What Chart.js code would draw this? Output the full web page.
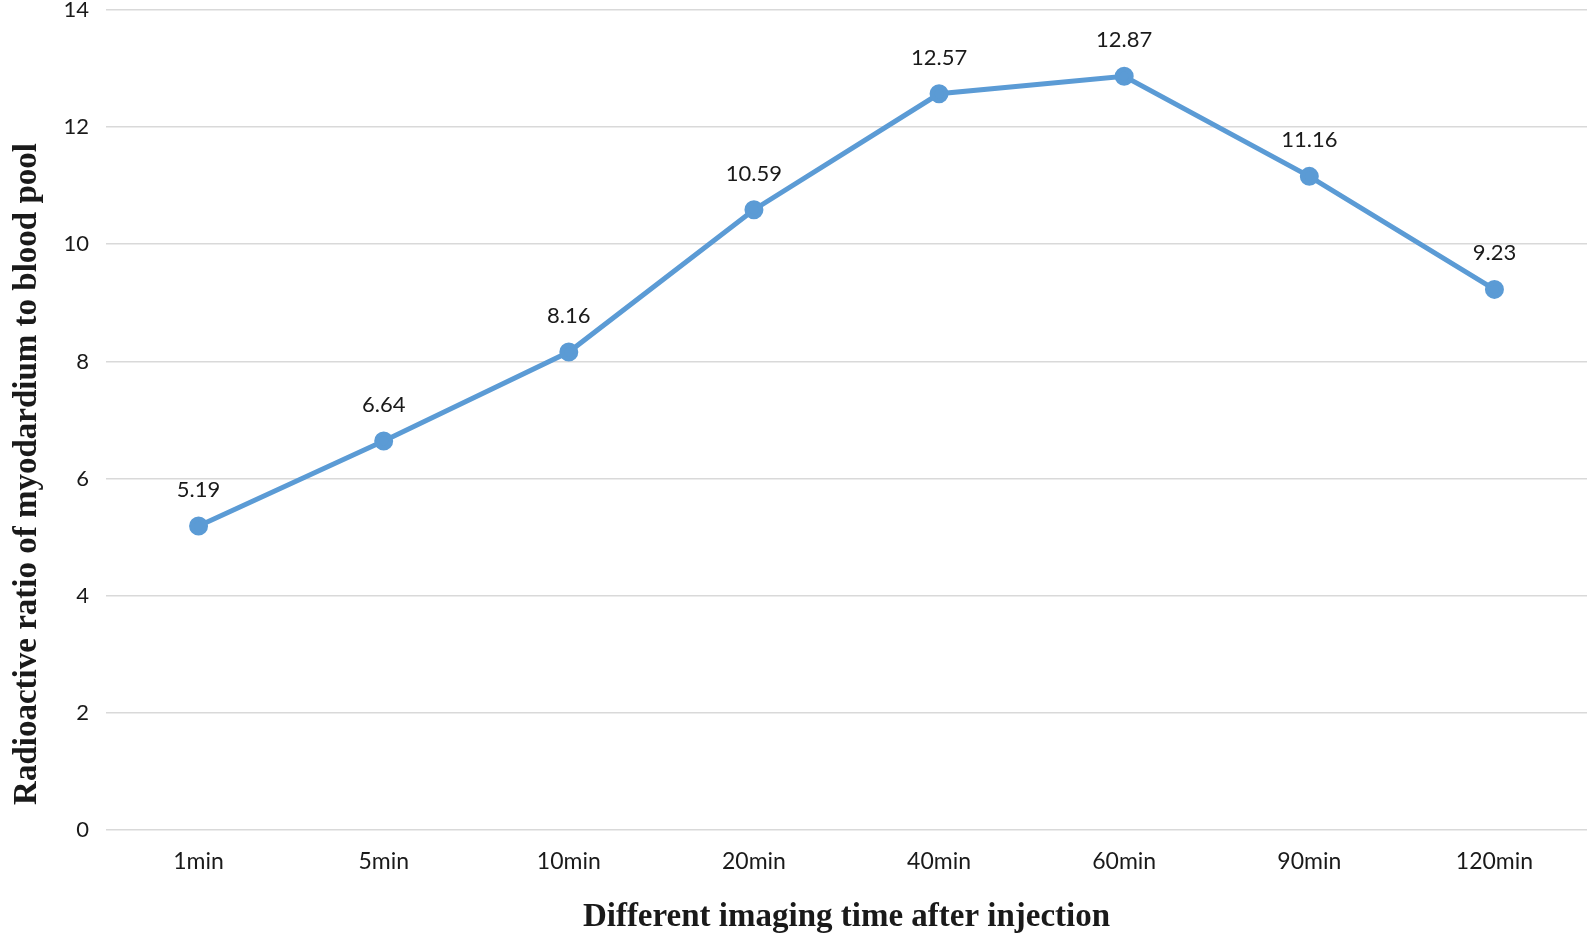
<!DOCTYPE html>
<html>
<head>
<meta charset="utf-8">
<script src="https://cdn.jsdelivr.net/npm/chart.js@4.4.0/dist/chart.umd.min.js"></script>
<style>
  html, body { margin: 0; padding: 0; background: #fff; overflow: hidden; }
  #wrap { width: 1590px; height: 943px; }
  canvas { display: block; }
</style>
</head>
<body>
<div id="wrap"><canvas id="ratioChart" width="1590" height="943"></canvas></div>
<script>
// --- Data ---
const timeLabels = ['1min', '5min', '10min', '20min', '40min', '60min', '90min', '120min'];
const ratioValues = [5.19, 6.64, 8.16, 10.59, 12.57, 12.87, 11.16, 9.23];
const yTicks = [0, 2, 4, 6, 8, 10, 12, 14];
const yTitle = 'Radioactive ratio of myodardium to blood pool';

const lineBlue = '#5B9BD5';

// --- Value labels above the points ---
const valueLabels = {
    id: 'valueLabels',
    afterDatasetsDraw(chart) {
        const ctx = chart.ctx;
        const meta = chart.getDatasetMeta(0);
        ctx.save();
        ctx.font = '22px Lato';
        ctx.fillStyle = '#1a1a1a';
        ctx.textAlign = 'center';
        ctx.textBaseline = 'middle';
        meta.data.forEach((pt, i) => {
            ctx.fillText(ratioValues[i].toFixed(2), pt.x, pt.y - 36);
        });
        ctx.restore();
    }
};

// --- Y axis title, sits a bit below the plot centre like the original ---
const sideTitle = {
    id: 'sideTitle',
    afterDraw(chart) {
        const ctx = chart.ctx;
        const area = chart.chartArea;
        ctx.save();
        ctx.translate(27, (area.top + area.bottom) / 2 + 54);
        ctx.rotate(-Math.PI / 2);
        ctx.font = 'bold 33px "Liberation Serif"';
        ctx.fillStyle = '#1a1a1a';
        ctx.textAlign = 'center';
        ctx.textBaseline = 'middle';
        ctx.fillText(yTitle, 0, 0);
        ctx.restore();
    }
};

const ctx = document.getElementById('ratioChart').getContext('2d');

new Chart(ctx, {
    type: 'line',
    data: {
        labels: timeLabels,
        datasets: [{
            data: ratioValues,
            borderColor: lineBlue,
            backgroundColor: lineBlue,
            borderWidth: 5,
            pointRadius: 7,
            pointBackgroundColor: lineBlue,
            pointBorderColor: lineBlue,
            tension: 0,
            fill: false
        }]
    },
    options: {
        responsive: false,
        animation: false,
        layout: { autoPadding: false, padding: { top: 10, right: 3, bottom: 0, left: 0 } },
        plugins: {
            legend: { display: false },
            tooltip: { enabled: false }
        },
        scales: {
            x: {
                offset: true,
                grid: { display: false, drawTicks: false },
                border: { display: false },
                ticks: { color: '#1a1a1a', font: { family: 'Lato', size: 23 }, padding: 18, maxRotation: 0 },
                title: {
                    display: true,
                    text: 'Different imaging time after injection',
                    color: '#1a1a1a',
                    font: { family: 'Liberation Serif', size: 33, weight: 'bold' },
                    padding: { top: 0, bottom: 6 }
                },
                afterFit(scale) {
                    scale.height = 113;
                    scale.paddingLeft = 0;
                    scale.paddingRight = 0;
                }
            },
            y: {
                min: 0,
                max: 14,
                afterBuildTicks(scale) { scale.ticks = yTicks.map(v => ({ value: v })); },
                grid: { color: '#d9d9d9', lineWidth: 1.6, drawTicks: false },
                border: { display: false },
                ticks: { color: '#1a1a1a', font: { family: 'Lato', size: 22 }, padding: 17 },
                afterFit(scale) {
                    scale.width = 106;
                    scale.paddingTop = 0;
                    scale.paddingBottom = 0;
                }
            }
        }
    },
    plugins: [valueLabels, sideTitle]
});
</script>
</body>
</html>
